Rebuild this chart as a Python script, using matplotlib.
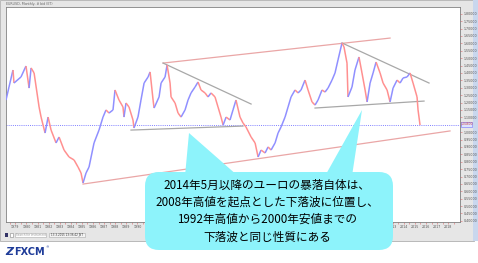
import numpy as np
import matplotlib.pyplot as plt
from matplotlib.patches import Rectangle, FancyBboxPatch, Polygon

# EUR/USD monthly (synthetic before 1999), turning points
years = [1978.16, 1978.43, 1978.79, 1978.88, 1979.51, 1979.96, 1980.24, 1980.42, 1980.69, 1981.14,
         1981.32, 1981.68, 1981.95, 1982.22, 1982.67, 1982.94, 1983.39, 1983.84, 1984.29, 1984.65,
         1984.92, 1985.10, 1985.37, 1985.64, 1986.09, 1986.54, 1986.90, 1987.17, 1987.44, 1987.80,
         1987.98, 1988.34, 1988.70, 1988.79, 1988.97, 1989.24, 1989.60, 1989.69, 1990.05, 1990.32,
         1990.60, 1990.96, 1991.14, 1991.41, 1991.50, 1991.95, 1992.13, 1992.49, 1992.67, 1992.94,
         1993.03, 1993.39, 1993.66, 1993.93, 1994.29, 1994.56, 1994.83, 1995.19, 1995.46, 1995.73,
         1996.09, 1996.36, 1996.63, 1996.99, 1997.26, 1997.53, 1997.72, 1997.99, 1998.34, 1998.61,
         1998.88, 1999.24, 1999.51, 1999.78, 2000.24, 2000.60, 2000.87, 2001.14, 2001.50, 2001.77,
         2002.04, 2002.40, 2002.67, 2002.94, 2003.30, 2003.57, 2003.84, 2004.20, 2004.47, 2004.74,
         2005.10, 2005.37, 2005.73, 2006.00, 2006.27, 2006.63, 2006.90, 2007.17, 2007.53, 2007.80,
         2008.07, 2008.43, 2008.61, 2008.88, 2008.97, 2009.33, 2009.60, 2009.96, 2010.23, 2010.51,
         2010.69, 2010.96, 2011.23, 2011.50, 2011.86, 2012.13, 2012.49, 2012.76, 2013.03, 2013.39,
         2013.66, 2013.93, 2014.29, 2014.56, 2014.83, 2015.19, 2015.28, 2015.46]
prices = [1.217, 1.305, 1.420, 1.332, 1.373, 1.447, 1.298, 1.434, 1.400, 1.170,
          1.102, 0.994, 1.102, 1.014, 0.927, 0.967, 0.879, 0.832, 0.812, 0.764,
          0.724, 0.656, 0.724, 0.764, 0.927, 1.014, 1.102, 1.150, 1.129, 1.150,
          1.285, 1.217, 1.170, 1.102, 1.197, 1.170, 1.082, 1.028, 1.102, 1.217,
          1.332, 1.373, 1.407, 1.217, 1.163, 1.238, 1.332, 1.373, 1.454, 1.332,
          1.238, 1.197, 1.129, 1.102, 1.150, 1.217, 1.265, 1.305, 1.339, 1.285,
          1.265, 1.238, 1.265, 1.238, 1.170, 1.102, 1.048, 1.102, 1.082, 1.150,
          1.217, 1.102, 1.062, 1.035, 0.967, 0.927, 0.832, 0.879, 0.859, 0.900,
          0.879, 0.927, 0.994, 1.035, 1.102, 1.170, 1.238, 1.285, 1.265, 1.285,
          1.352, 1.285, 1.204, 1.183, 1.217, 1.285, 1.271, 1.298, 1.352, 1.400,
          1.488, 1.603, 1.576, 1.467, 1.238, 1.305, 1.420, 1.508, 1.400, 1.285,
          1.204, 1.332, 1.400, 1.474, 1.400, 1.332, 1.285, 1.204, 1.298, 1.352,
          1.332, 1.366, 1.373, 1.400, 1.332, 1.238, 1.150, 1.048]

# trend lines: (year0, price0, year1, price1)
pink_lines = [(1992.31, 1.467, 2012.76, 1.636),
              (1985.10, 0.649, 2018.16, 1.008)]
grey_lines = [(1992.31, 1.467, 2000.24, 1.190),
              (1989.42, 1.014, 1999.51, 1.041),
              (2008.43, 1.603, 2016.27, 1.332),
              (2006.00, 1.163, 2015.82, 1.210)]

year_labels = list(range(1979, 2019))
price_ticks = np.arange(0.40, 1.801, 0.05)

callout = ["2014年5月以降のユーロの暴落自体は、",
           "2008年高値を起点とした下落波に位置し、",
           "1992年高値から2000年安値までの",
           "下落波と同じ性質にある"]

W, H = 478, 263
fig = plt.figure(figsize=(W / 100, H / 100), dpi=100)
fig.patch.set_facecolor("white")

# window frame
fig.patches.append(Rectangle((0, 1 - 241 / H), 474 / W, 241 / H, transform=fig.transFigure,
                             facecolor="#e6e6e6", edgecolor="#b0b0b0", lw=0.6, zorder=-5))
fig.patches.append(Rectangle((473 / W, 1 - 241 / H), 5 / W, 241 / H, transform=fig.transFigure,
                             facecolor="#c9d7ee", edgecolor="none", zorder=-5))

ax = fig.add_axes([6 / W, 1 - 222 / H, 454 / W, 215 / H])
ax.set_facecolor("white")
ax.set_xlim(1978.16, 2019.06)
ax.set_ylim(0.3925, 1.846)

for i in range(len(years) - 1):
    up = prices[i + 1] >= prices[i]
    ax.plot(years[i:i + 2], prices[i:i + 2], color="#9090ff" if up else "#ff9090",
            lw=1.1, solid_capstyle="butt", zorder=3)

for x0, y0, x1, y1 in pink_lines:
    ax.plot([x0, x1], [y0, y1], color="#eaa6a6", lw=0.9, zorder=2)
for x0, y0, x1, y1 in grey_lines:
    ax.plot([x0, x1], [y0, y1], color="#a8a8a8", lw=0.9, zorder=2)

ax.axhline(prices[-1], color="#8080ff", lw=0.7, ls=(0, (1, 1.2)), zorder=1)

ax.yaxis.tick_right()
ax.set_yticks(price_ticks)
# the current-price marker takes the place of the nearest scale label
ax.set_yticklabels(["" if abs(v - prices[-1]) < 0.02 else "%.5f" % v for v in price_ticks],
                   fontsize=2.3, color="#555555")
ax.set_xticks(year_labels)
ax.set_xticklabels([str(y) for y in year_labels], fontsize=2.3, color="#555555")
ax.set_xticks(np.arange(1978.5, 2019, 0.5), minor=True)
ax.tick_params(axis="both", which="both", length=1.5, width=0.5, color="#e08080", pad=1)
for s in ax.spines.values():
    s.set_color("#808080")
    s.set_linewidth(0.6)

# overlay in pixel coordinates
ov = fig.add_axes([0, 0, 1, 1])
ov.set_xlim(0, W)
ov.set_ylim(H, 0)
ov.axis("off")

ov.text(6, 4, "EURUSD, Monthly, # bid (ET)", fontsize=2.3, color="#666666", va="center")
# current price marker on the scale
ov.add_patch(Rectangle((461, 121.5), 11, 5, facecolor="#dde4ff", edgecolor="#7070ff", lw=0.4))
ov.text(466.5, 124, "%.5f" % prices[-1], fontsize=2.2, color="#d04040", ha="center", va="center")

# status bar
ov.add_patch(Rectangle((5, 233), 3.5, 3.5, facecolor="#333366", edgecolor="none"))
ov.add_patch(Rectangle((10, 233), 3.5, 3.5, facecolor="white", edgecolor="#888888", lw=0.4))
ov.add_patch(Rectangle((15, 232.5), 31, 4.5, facecolor="white", edgecolor="#aaaaaa", lw=0.4))
ov.text(16, 234.8, "Search for instrument", fontsize=2, color="#999999", va="center")
ov.add_patch(Rectangle((49, 232.5), 36, 4.5, facecolor="#f4f4f4", edgecolor="#aaaaaa", lw=0.4))
ov.text(51, 234.8, "13.3.2015 13:36:42 JST", fontsize=2, color="#333333", va="center")

# callout
cyan = "#8df3fb"
ov.add_patch(Polygon([(189, 133), (185, 176), (238, 176)], closed=True,
                     facecolor=cyan, edgecolor="none", zorder=5))
ov.add_patch(Polygon([(362, 110), (325, 176), (352, 176)], closed=True,
                     facecolor=cyan, edgecolor="none", zorder=5))
ov.add_patch(FancyBboxPatch((145, 172), 248, 78, boxstyle="round,pad=0,rounding_size=14",
                            facecolor=cyan, edgecolor="none", zorder=5))
for k, line in enumerate(callout):
    ov.text(267, 185 + 17.3 * k, line, fontsize=8.4, ha="center", va="center", color="black",
            family=["Noto Sans CJK JP", "DejaVu Sans"], zorder=6)

# logo
ov.text(5, 252, "Z", fontsize=8, fontweight="bold", style="italic", color="#1f3c99", va="center")
ov.text(14, 252, "FXCM", fontsize=7, fontweight="bold", color="#1f3c99", va="center")
ov.text(46, 247, "®", fontsize=2.5, color="#1f3c99", va="center")

fig.savefig("out.png", dpi=100)
